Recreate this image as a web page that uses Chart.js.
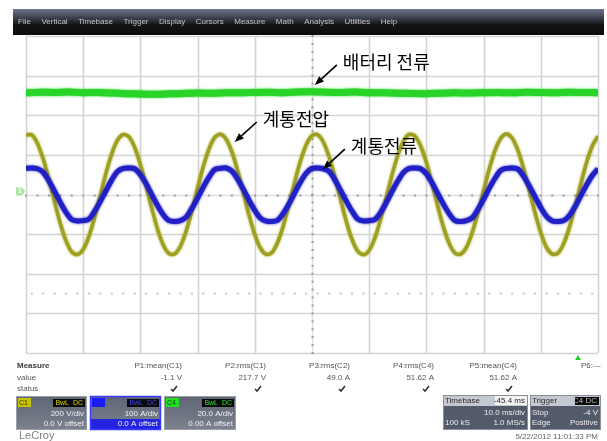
<!DOCTYPE html>
<html>
<head>
<meta charset="utf-8">
<script src="https://cdn.jsdelivr.net/npm/chart.js@4.4.1/dist/chart.umd.min.js"></script>
<style>
  html, body { margin: 0; padding: 0; background: #ffffff; }
  canvas { display: block; }
</style>
</head>
<body>
<canvas id="scope" width="607" height="441"></canvas>
<script>
// Acquisition time axis, ms (10 ms/div over 10 divisions)
const timeMs = [
  0, 1, 2, 3, 4, 5, 6, 7, 8, 9, 10, 11, 12, 13, 14, 15, 16, 17, 18, 19,
  20, 21, 22, 23, 24, 25, 26, 27, 28, 29, 30, 31, 32, 33, 34, 35, 36, 37, 38, 39,
  40, 41, 42, 43, 44, 45, 46, 47, 48, 49, 50, 51, 52, 53, 54, 55, 56, 57, 58, 59,
  60, 61, 62, 63, 64, 65, 66, 67, 68, 69, 70, 71, 72, 73, 74, 75, 76, 77, 78, 79,
  80, 81, 82, 83, 84, 85, 86, 87, 88, 89, 90, 91, 92, 93, 94, 95, 96, 97, 98, 99, 100
];

// C1 – grid voltage (계통전압), V
const gridVoltage = [
  300, 301, 258, 180, 77, -37, -146, -234, -290, -303, -277, -211, -115, -3, 109, 206, 274,
  303, 291, 238, 151, 43, -71, -175, -255, -298, -300, -261, -184, -82, 32, 141, 230, 288,
  304, 279, 215, 120, 9, -104, -202, -272, -302, -293, -241, -156, -49, 65, 170, 251, 297,
  302, 264, 189, 88, -26, -136, -227, -286, -304, -282, -219, -125, -14, 99, 198, 269,
  303, 294, 245, 161, 54, -60, -166, -248, -296, -301, -267, -193, -93, 20, 130, 223, 284,
  305, 284, 223, 130, 20, -93, -193, -267, -301, -296, -248, -166, -60, 54, 161, 245, 294
];

// C2 – grid current (계통전류), A
const gridCurrent = [
  66, 67, 65, 56, 34, 8, -20, -45, -63, -67, -66, -62, -42, -17, 10, 37, 58,
  66, 67, 65, 50, 27, -1, -28, -51, -66, -68, -66, -57, -35, -9, 19, 44, 63,
  66, 67, 59, 39, 13, -15, -40, -60, -67, -68, -65, -47, -23, 5, 32, 54, 66,
  67, 65, 58, 37, 10, -17, -42, -62, -67, -66, -63, -45, -20, 8, 34, 56, 66,
  67, 65, 52, 29, 2, -25, -49, -66, -68, -66, -59, -38, -12, 16, 41, 61, 66,
  67, 64, 46, 21, -6, -33, -55, -67, -68, -66, -53, -30, -3, 24, 48, 65
];

// C4 – battery current (배터리 전류), A
const batteryTimeMs = [
  0, 2.5, 5, 7.5, 10, 12.5, 15, 17.5, 20, 22.5, 25, 27.5, 30, 32.5, 35, 37.5, 40, 42.5, 45, 47.5,
  50, 52.5, 55, 57.5, 60, 62.5, 65, 67.5, 70, 72.5, 75, 77.5, 80, 82.5, 85, 87.5, 90, 92.5, 95, 97.5, 100
];
const batteryCurrent = [
  51.3, 51.6, 51.5, 51.7, 51.4, 51.5, 51.2, 50.9, 50.7, 50.6, 50.8, 51.0, 51.2, 51.1, 51.4, 51.3, 51.5, 51.6, 51.4, 51.7,
  51.8, 51.6, 51.5, 51.7, 51.4, 51.3, 51.1, 51.0, 50.9, 51.1, 51.3, 51.2, 51.4, 51.5, 51.3, 51.6, 51.5, 51.4, 51.6, 51.5, 51.4
];

// Measurement table under the screen
const measureNames  = ['P1:mean(C1)', 'P2:rms(C1)', 'P3:rms(C2)', 'P4:rms(C4)', 'P5:mean(C4)', 'P6:---'];
const measureValues = ['-1.1 V', '217.7 V', '49.0 A', '51.62 A', '51.62 A', ''];

// Channel descriptors
const channelNames   = ['C1', 'C2', 'C4'];
const channelScales  = ['200 V/div', '100 A/div', '20.0 A/div'];
const channelOffsets = ['0.0 V offset', '0.0 A offset', '0.00 A offset'];

const menuItems = ['File', 'Vertical', 'Timebase', 'Trigger', 'Display', 'Cursors', 'Measure', 'Math', 'Analysis', 'Utilities', 'Help'];

// Trace callouts: text, axis, anchor point (time, value)
const calloutText  = ['배터리 전류', '계통전압', '계통전류'];
const calloutAxis  = ['yB', 'yV', 'yI'];
const calloutTime  = [50.5, 36.5, 51.9];
const calloutValue = [55.3, 265, 64];

const UI_FONT = '"Liberation Sans", "DejaVu Sans", Arial, sans-serif';

const scopeGrid = {
  id: 'scopeGrid',
  beforeDatasetsDraw(chart) {
    const { ctx, chartArea: a } = chart;
    const xs = chart.scales.x, ys = chart.scales.yV;
    ctx.save();
    ctx.strokeStyle = '#d3d3d3';
    ctx.lineWidth = 1.6;
    for (let t = 0; t <= 100; t += 10) {
      if (t === 50) continue;
      const x = Math.round(xs.getPixelForValue(t)) + 0.5;
      ctx.beginPath(); ctx.moveTo(x, a.top); ctx.lineTo(x, a.bottom); ctx.stroke();
    }
    for (let v = -800; v <= 800; v += 200) {
      if (v === 0) continue;
      const y = Math.round(ys.getPixelForValue(v)) + 0.5;
      ctx.beginPath(); ctx.moveTo(a.left, y); ctx.lineTo(a.right, y); ctx.stroke();
    }
    // centre cross with minor ticks
    const cx = Math.round(xs.getPixelForValue(50)) + 0.5;
    const cy = Math.round(ys.getPixelForValue(0)) + 0.5;
    ctx.strokeStyle = '#e0e0e0';
    ctx.beginPath(); ctx.moveTo(a.left, cy); ctx.lineTo(a.right, cy); ctx.stroke();
    ctx.beginPath(); ctx.moveTo(cx, a.top); ctx.lineTo(cx, a.bottom); ctx.stroke();
    ctx.fillStyle = '#9a9a9a';
    for (let t = 0; t <= 100; t += 2) {
      const x = xs.getPixelForValue(t);
      ctx.fillRect(x - 1, cy - 1, 2, 2);
    }
    for (let v = -800; v <= 800; v += 40) {
      const y = ys.getPixelForValue(v);
      ctx.fillRect(cx - 1, y - 1, 2, 2);
    }
    // faint dotted level line
    ctx.fillStyle = '#c8c8c8';
    const ly = ys.getPixelForValue(-500);
    for (let t = 1; t < 100; t += 2) {
      const x = xs.getPixelForValue(t);
      ctx.fillRect(x - 1, ly - 1, 2, 2);
    }
    ctx.restore();
  },
  // soft glow around each noisy trace
  beforeDatasetDraw(chart, args) {
    const ds = chart.data.datasets[args.index];
    chart.ctx.save();
    chart.ctx.shadowColor = ds.borderColor;
    chart.ctx.shadowBlur = 2.5;
  },
  afterDatasetDraw(chart) {
    chart.ctx.restore();
  }
};

const scopeChrome = {
  id: 'scopeChrome',
  afterDraw(chart) {
    const { ctx } = chart;
    ctx.save();

    // menu bar
    const g = ctx.createLinearGradient(0, 9, 0, 35);
    g.addColorStop(0, '#6e768c');
    g.addColorStop(0.45, '#2c2f38');
    g.addColorStop(0.6, '#141416');
    g.addColorStop(1, '#0c0c0c');
    ctx.fillStyle = g;
    ctx.fillRect(13, 9, 591, 26);
    ctx.font = '8px ' + UI_FONT;
    ctx.fillStyle = '#c4c4c4';
    ctx.textBaseline = 'middle';
    ctx.textAlign = 'left';
    let mx = 18;
    menuItems.forEach(m => {
      ctx.fillText(m, mx, 22);
      mx += ctx.measureText(m).width + 10.5;
    });

    // ground marker of channel 1
    const ys = chart.scales.yV;
    const gy = ys.getPixelForValue(0);
    ctx.fillStyle = '#a8e8a0';
    ctx.beginPath();
    ctx.moveTo(16, gy - 7); ctx.lineTo(22, gy - 7); ctx.lineTo(25, gy - 3); ctx.lineTo(22, gy + 1); ctx.lineTo(16, gy + 1);
    ctx.closePath(); ctx.fill();
    ctx.fillStyle = '#ffffff';
    ctx.font = 'bold 7px ' + UI_FONT;
    ctx.textAlign = 'center';
    ctx.fillText('1', 20, gy - 3);

    // measurement table
    ctx.fillStyle = '#3a3a3a';
    ctx.textAlign = 'left';
    ctx.font = 'bold 8px ' + UI_FONT;
    ctx.fillText('Measure', 17, 366);
    ctx.font = '8px ' + UI_FONT;
    ctx.fillStyle = '#555';
    ctx.fillText('value', 17, 378);
    ctx.fillText('status', 17, 389);
    const colRight = [182, 266, 350, 434, 517, 601];
    ctx.textAlign = 'right';
    measureNames.forEach((n, i) => {
      ctx.fillStyle = '#555';
      ctx.fillText(n, colRight[i], 366);
      if (measureValues[i]) {
        ctx.fillText(measureValues[i], colRight[i], 378);
        // status check mark
        const ckx = colRight[i] - 8, cky = 389;
        ctx.strokeStyle = '#333';
        ctx.lineWidth = 1.6;
        ctx.beginPath();
        ctx.moveTo(ckx - 3, cky); ctx.lineTo(ckx - 1, cky + 2); ctx.lineTo(ckx + 3, cky - 3);
        ctx.stroke();
      }
    });
    // P6 marker
    ctx.fillStyle = '#22cc22';
    ctx.beginPath();
    ctx.moveTo(575, 360); ctx.lineTo(581, 360); ctx.lineTo(578, 355); ctx.closePath(); ctx.fill();

    // channel descriptor boxes
    const boxX = [16, 90, 164];
    const badgeCol = ['#c9c200', '#1a1aff', '#22e022'];
    const badgeTxt = ['#333300', '#1a1aff', '#0a4a0a'];
    const dcTxt = ['#d8d000', '#4040ff', '#30e030'];
    boxX.forEach((bx, i) => {
      const w = i === 2 ? 72 : 71, by = 396, h = 34;
      const bg = ctx.createLinearGradient(0, by, 0, by + h);
      bg.addColorStop(0, '#5e6574');
      bg.addColorStop(1, '#7c828e');
      ctx.fillStyle = bg;
      ctx.fillRect(bx, by, w, h);
      if (i === 1) {
        ctx.fillStyle = '#2424e0';
        ctx.fillRect(bx, by + 23, w, h - 23);
        ctx.strokeStyle = '#3a3aff';
        ctx.lineWidth = 1.5;
        ctx.strokeRect(bx + 0.5, by + 0.5, w - 1, h - 1);
      } else {
        ctx.strokeStyle = '#9aa0a8';
        ctx.lineWidth = 1;
        ctx.strokeRect(bx + 0.5, by + 0.5, w - 1, h - 1);
      }
      ctx.fillStyle = badgeCol[i];
      ctx.fillRect(bx + 2, by + 2, 13, 9);
      ctx.fillStyle = badgeTxt[i];
      ctx.font = '7px ' + UI_FONT;
      ctx.textAlign = 'left';
      ctx.fillText(channelNames[i], bx + 3, by + 7);
      ctx.fillStyle = '#0a0a0a';
      ctx.fillRect(bx + w - 34, by + 3, 32, 8);
      ctx.fillStyle = dcTxt[i];
      ctx.textAlign = 'right';
      ctx.fillText('BwL  DC', bx + w - 4, by + 7);
      ctx.fillStyle = '#f2f2f2';
      ctx.font = '8px ' + UI_FONT;
      ctx.fillText(channelScales[i], bx + w - 3, by + 18);
      ctx.fillText(channelOffsets[i], bx + w - 3, by + 28);
    });

    // timebase and trigger boxes
    const drawInfo = (x, w, title, head, rows) => {
      const y = 395, h = 35;
      ctx.fillStyle = '#535b6b';
      ctx.fillRect(x, y, w, h);
      ctx.fillStyle = '#c4c8d0';
      ctx.fillRect(x, y, w, 11);
      ctx.strokeStyle = '#8a909a';
      ctx.lineWidth = 1;
      ctx.strokeRect(x + 0.5, y + 0.5, w - 1, h - 1);
      ctx.font = '8px ' + UI_FONT;
      ctx.textAlign = 'left';
      ctx.fillStyle = '#2a2a2a';
      ctx.fillText(title, x + 2, y + 6);
      ctx.textAlign = 'right';
      if (head.dark) {
        ctx.fillStyle = '#0a0a0a';
        ctx.fillRect(x + w - 26, y + 2, 24, 8);
        ctx.fillStyle = '#bdbdbd';
        ctx.fillText(head.text, x + w - 4, y + 6);
      } else {
        ctx.fillStyle = '#f4f4f4';
        ctx.fillRect(x + w - 33, y + 1, 32, 9);
        ctx.fillStyle = '#2a2a2a';
        ctx.fillText(head.text, x + w - 3, y + 6);
      }
      ctx.fillStyle = '#ececec';
      rows.forEach((r, k) => {
        const ry = y + 18 + k * 10;
        ctx.textAlign = 'left';
        if (r[0]) ctx.fillText(r[0], x + 2, ry);
        ctx.textAlign = 'right';
        ctx.fillText(r[1], x + w - 3, ry);
      });
    };
    drawInfo(443, 85, 'Timebase', { text: '-45.4 ms' }, [['', '10.0 ms/div'], ['100 kS', '1.0 MS/s']]);
    drawInfo(530, 71, 'Trigger', { text: 'C4 DC', dark: true }, [['Stop', '-4 V'], ['Edge', 'Positive']]);

    // footer
    ctx.fillStyle = '#666';
    ctx.font = '8px ' + UI_FONT;
    ctx.textAlign = 'right';
    ctx.fillText('5/22/2012 11:01:33 PM', 598, 437);
    ctx.textAlign = 'left';
    ctx.fillStyle = '#808080';
    ctx.font = '11px ' + UI_FONT;
    ctx.fillText('LeCroy', 19, 436);

    ctx.restore();
  }
};

const traceLabels = {
  id: 'traceLabels',
  afterDatasetsDraw(chart) {
    const { ctx } = chart;
    const xs = chart.scales.x;
    ctx.save();
    calloutText.forEach((txt, i) => {
      const tipX = xs.getPixelForValue(calloutTime[i]);
      const tipY = chart.scales[calloutAxis[i]].getPixelForValue(calloutValue[i]);
      const tailX = tipX + 22, tailY = tipY - 20;
      const ang = Math.atan2(tipY - tailY, tipX - tailX);
      const head = 9, half = 3.6;
      const baseX = tipX - head * Math.cos(ang), baseY = tipY - head * Math.sin(ang);
      ctx.strokeStyle = '#000';
      ctx.fillStyle = '#000';
      ctx.lineWidth = 1.6;
      ctx.beginPath(); ctx.moveTo(tailX, tailY); ctx.lineTo(baseX, baseY); ctx.stroke();
      ctx.beginPath();
      ctx.moveTo(tipX, tipY);
      ctx.lineTo(baseX + half * Math.sin(ang), baseY - half * Math.cos(ang));
      ctx.lineTo(baseX - half * Math.sin(ang), baseY + half * Math.cos(ang));
      ctx.closePath(); ctx.fill();
      ctx.font = '18px "Noto Sans CJK KR", sans-serif';
      ctx.textAlign = 'left';
      ctx.textBaseline = 'middle';
      ctx.fillText(txt, tipX + 28, tipY - 23);
    });
    ctx.restore();
  }
};

const toPoints = (xsArr, ysArr) => xsArr.map((t, i) => ({ x: t, y: ysArr[i] }));

new Chart(document.getElementById('scope').getContext('2d'), {
  type: 'line',
  data: {
    datasets: [
      {
        label: 'C2 계통전류',
        data: toPoints(timeMs, gridCurrent),
        yAxisID: 'yI',
        borderColor: '#2020c4',
        borderWidth: 5,
        pointRadius: 0,
        tension: 0.3,
        order: 0
      },
      {
        label: 'C1 계통전압',
        data: toPoints(timeMs, gridVoltage),
        yAxisID: 'yV',
        borderColor: '#a0a020',
        borderWidth: 3.5,
        pointRadius: 0,
        tension: 0.3,
        order: 1
      },
      {
        label: 'C4 배터리 전류',
        data: toPoints(batteryTimeMs, batteryCurrent),
        yAxisID: 'yB',
        borderColor: '#28d428',
        borderWidth: 7,
        pointRadius: 0,
        tension: 0.2,
        order: 2
      }
    ]
  },
  options: {
    responsive: false,
    animation: false,
    devicePixelRatio: 1,
    events: [],
    layout: { padding: { left: 26, top: 36, right: 9, bottom: 88 } },
    plugins: { legend: { display: false }, tooltip: { enabled: false } },
    scales: {
      x:  { type: 'linear', min: 0, max: 100, display: false },
      yV: { type: 'linear', min: -800, max: 800, display: false },
      yI: { type: 'linear', min: -400, max: 400, display: false },
      yB: { type: 'linear', min: -80, max: 80, display: false }
    }
  },
  plugins: [scopeGrid, scopeChrome, traceLabels]
});
</script>
</body>
</html>
